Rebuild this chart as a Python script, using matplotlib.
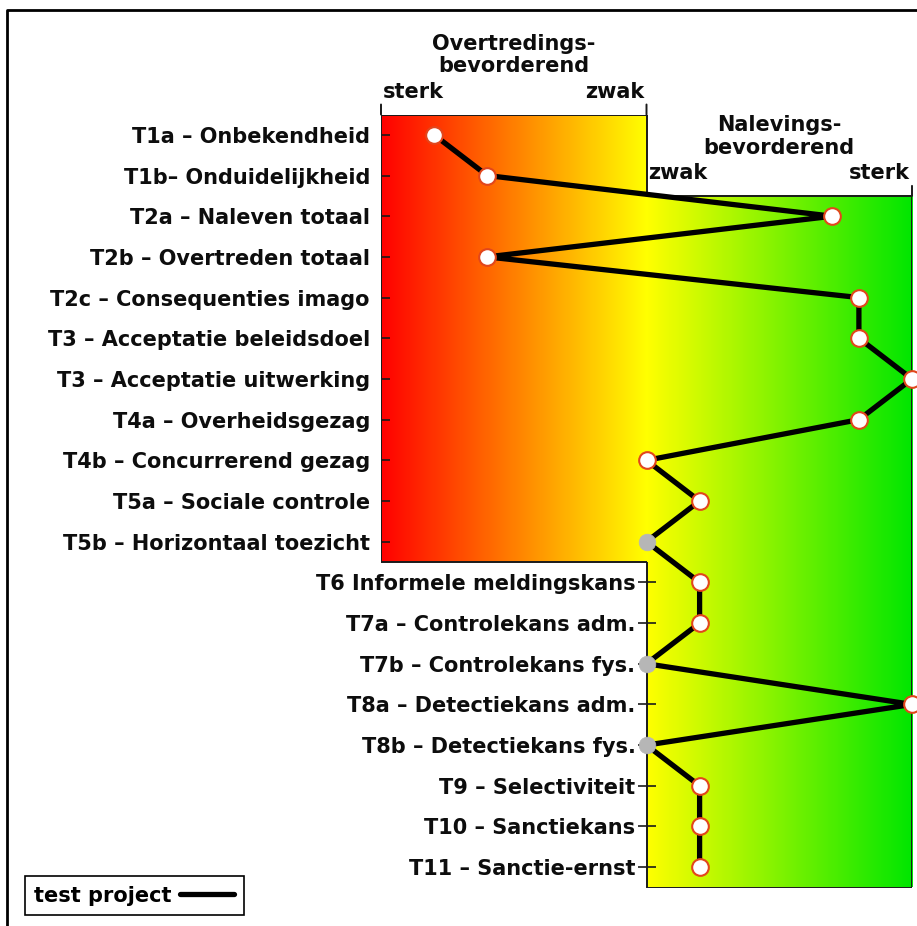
import numpy as np
import matplotlib
matplotlib.use("Agg")
import matplotlib.pyplot as plt
from matplotlib.lines import Line2D
from matplotlib.colors import LinearSegmentedColormap

# ── Data ──────────────────────────────────────────────────────────────────────
labels = [
    "T1a – Onbekendheid",
    "T1b– Onduidelijkheid",
    "T2a – Naleven totaal",
    "T2b – Overtreden totaal",
    "T2c – Consequenties imago",
    "T3 – Acceptatie beleidsdoel",
    "T3 – Acceptatie uitwerking",
    "T4a – Overheidsgezag",
    "T4b – Concurrerend gezag",
    "T5a – Sociale controle",
    "T5b – Horizontaal toezicht",
    "T6 Informele meldingskans",
    "T7a – Controlekans adm.",
    "T7b – Controlekans fys.",
    "T8a – Detectiekans adm.",
    "T8b – Detectiekans fys.",
    "T9 – Selectiviteit",
    "T10 – Sanctiekans",
    "T11 – Sanctie-ernst",
]
# negative = overtredingsbevorderend, positive = nalevingsbevorderend
scores = [-4, -3, 3.5, -3, 4, 4, 5, 4, 0, 1, 0, 1, 1, 0, 5, 0, 1, 1, 1]
unknown = [False] * 10 + [True] + [False] * 2 + [True] + [False] + [True] + [False] * 3
series_name = "test project"

# ── Layout ────────────────────────────────────────────────────────────────────
W, H = 917, 926
SMAX = 5
N_LEFT = 11          # rows whose tick sits on the left panel
RIGHT_START = 2      # first row covered by the right panel
FS = 15
n = len(labels)
rows = np.arange(n)

fig = plt.figure(figsize=(W / 100, H / 100), dpi=100)
fig.patch.set_facecolor("white")
ax = fig.add_axes([381 / W, 1 - 887.5 / H, (912 - 381) / W, (887.5 - 114.5) / H])
ax.set_xlim(-SMAX, SMAX)
ax.set_ylim(n - 0.5, -0.5)
ax.axis("off")

# ── Gradient panels ───────────────────────────────────────────────────────────
red_yel = LinearSegmentedColormap.from_list("ry", ["#ff0000", "#ffff00"])
yel_grn = LinearSegmentedColormap.from_list("yg", ["#ffff00", "#00e600"])
grad = np.linspace(0, 1, 256).reshape(1, -1)
l_top, l_bot = -0.5, N_LEFT - 0.5
r_top, r_bot = RIGHT_START - 0.5, n - 0.5
ax.imshow(grad, cmap=red_yel, aspect="auto", extent=(-SMAX, 0, l_bot, l_top), zorder=0)
ax.imshow(grad, cmap=yel_grn, aspect="auto", extent=(0, SMAX, r_bot, r_top), zorder=1)

edge = dict(color="#1a1a1a", lw=1.4, zorder=2, solid_capstyle="butt")
ax.plot([-SMAX, -SMAX, 0], [l_bot, l_top, l_top], **edge)
ax.plot([0, 0], [l_top, r_top], **edge)
ax.plot([-SMAX, 0], [l_bot, l_bot], **edge)
ax.plot([0, SMAX, SMAX, 0, 0], [r_top, r_top, r_bot, r_bot, l_bot], **edge)

# small vertical end ticks above panels
for x, y in [(-SMAX, l_top), (0, l_top), (SMAX, r_top)]:
    ax.annotate("", xy=(x, y), xytext=(0, 10), textcoords="offset pixels",
                arrowprops=dict(arrowstyle="-", color="#1a1a1a", lw=1.4,
                                shrinkA=0, shrinkB=0))

# ── Row ticks and labels ──────────────────────────────────────────────────────
tick_x = np.where(rows < N_LEFT, -SMAX, 0)
ax.plot(tick_x, rows, ls="none", marker="_", ms=13, mew=1.2, color="#1a1a1a", zorder=2)
for r, (lab, tx) in enumerate(zip(labels, tick_x)):
    ax.annotate(lab, xy=(tx, r), xytext=(-11, 0), textcoords="offset pixels",
                ha="right", va="center_baseline", fontsize=FS, fontweight="bold",
                color="#0d0d0d")

# ── Headers ───────────────────────────────────────────────────────────────────
hdr = dict(fontsize=FS, fontweight="bold", color="#0d0d0d",
           textcoords="offset pixels", va="baseline")
for cx, top, words in [(-SMAX / 2, l_top, ("Overtredings-", "bevorderend")),
                       (SMAX / 2, r_top, ("Nalevings-", "bevorderend"))]:
    ax.annotate(words[0], xy=(cx, top), xytext=(0, 65), ha="center", **hdr)
    ax.annotate(words[1], xy=(cx, top), xytext=(0, 42), ha="center", **hdr)
ax.annotate("sterk", xy=(-SMAX, l_top), xytext=(2, 17), ha="left", **hdr)
ax.annotate("zwak", xy=(0, l_top), xytext=(-2, 17), ha="right", **hdr)
ax.annotate("zwak", xy=(0, r_top), xytext=(2, 17), ha="left", **hdr)
ax.annotate("sterk", xy=(SMAX, r_top), xytext=(-2, 17), ha="right", **hdr)

# ── Profile line ──────────────────────────────────────────────────────────────
scores = np.array(scores, dtype=float)
unknown = np.array(unknown)
ax.plot(scores, rows, color="black", lw=3.8, zorder=3, label=series_name,
        solid_capstyle="round", solid_joinstyle="round", clip_on=False)
ax.plot(scores[~unknown], rows[~unknown], ls="none", marker="o", ms=12,
        mfc="white", mec="#e2461c", mew=1.5, zorder=4, clip_on=False)
ax.plot(scores[unknown], rows[unknown], ls="none", marker="o", ms=12,
        mfc="#b6b6b6", mec="#b6b6b6", mew=0.5, zorder=4, clip_on=False)

leg = ax.legend(loc="lower left", bbox_to_anchor=(25 / W, 1 - 915 / H),
                bbox_transform=fig.transFigure, markerfirst=False, fancybox=False,
                framealpha=1, edgecolor="black", handlelength=2.6,
                borderpad=0.45, handletextpad=0.4, borderaxespad=0,
                prop=dict(size=FS, weight="bold"))
leg.get_frame().set_linewidth(1.2)

# ── Outer frame (top + left) ──────────────────────────────────────────────────
fig.add_artist(Line2D([7 / W, 7 / W, 1], [0, 1 - 10 / H, 1 - 10 / H],
                      transform=fig.transFigure, color="black", lw=2))

fig.savefig("out.png", dpi=100, facecolor="white")
